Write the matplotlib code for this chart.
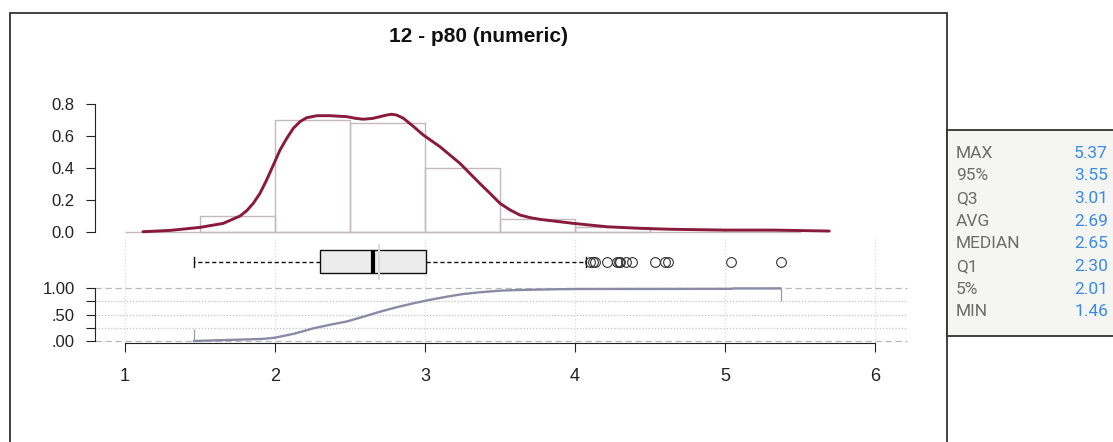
import matplotlib
matplotlib.use('Agg')
import matplotlib.pyplot as plt
from matplotlib.patches import Rectangle
import numpy as np

plt.rcParams['font.family'] = ['Liberation Sans', 'DejaVu Sans']

# histogram (density scale)
bin_edges = [1.5, 2.0, 2.5, 3.0, 3.5, 4.0, 4.5, 5.0, 5.5]
bin_density = [0.10, 0.70, 0.68, 0.40, 0.08, 0.03, 0.015, 0.01]

# kernel density estimate
dens_x = [1.12, 1.30, 1.50, 1.655, 1.767, 1.811, 1.855, 1.90, 1.944, 1.989, 2.033,
          2.078, 2.122, 2.167, 2.21, 2.28, 2.367, 2.478, 2.54, 2.589, 2.65, 2.70,
          2.744, 2.778, 2.811, 2.856, 2.92, 2.989, 3.10, 3.233, 3.367, 3.433, 3.50,
          3.567, 3.633, 3.70, 3.767, 3.989, 4.211, 4.433, 4.656, 4.989, 5.32, 5.695]
dens_y = [0.0, 0.008, 0.027, 0.052, 0.098, 0.131, 0.177, 0.24, 0.323, 0.417, 0.51,
          0.583, 0.646, 0.688, 0.712, 0.725, 0.725, 0.719, 0.708, 0.703, 0.708, 0.719,
          0.729, 0.734, 0.729, 0.709, 0.66, 0.604, 0.531, 0.427, 0.30, 0.24, 0.177,
          0.136, 0.104, 0.088, 0.077, 0.052, 0.031, 0.021, 0.015, 0.01, 0.01, 0.004]

# empirical cdf
cdf_x = [1.46, 1.92, 2.00, 2.13, 2.255, 2.37, 2.478, 2.60, 2.70, 2.81, 2.922,
         3.03, 3.144, 3.25, 3.367, 3.50, 3.59, 3.75, 3.88, 4.03, 5.04, 5.06, 5.37]
cdf_y = [0.0, 0.04, 0.063, 0.14, 0.24, 0.31, 0.37, 0.47, 0.556, 0.64, 0.715,
         0.78, 0.84, 0.89, 0.925, 0.955, 0.965, 0.975, 0.982, 0.987, 0.99, 0.998, 0.998]

# summary
stat_names = ['MAX', '95%', 'Q3', 'AVG', 'MEDIAN', 'Q1', '5%', 'MIN']
stat_values = [5.37, 3.55, 3.01, 2.69, 2.65, 2.30, 2.01, 1.46]
whisker_hi = 4.07
outliers = [4.10, 4.12, 4.13, 4.21, 4.28, 4.29, 4.30, 4.34, 4.38,
            4.53, 4.60, 4.62, 5.04, 5.37]

x_ticks = [1, 2, 3, 4, 5, 6]

W, H = 1113, 442
fig = plt.figure(figsize=(W / 100, H / 100), dpi=100)


def frac(l, t, r, b):
    return [l / W, 1 - b / H, (r - l) / W, (b - t) / H]


def fig_rect(l, t, r, b, **kw):
    fig.add_artist(Rectangle((l / W, 1 - b / H), (r - l) / W, (b - t) / H,
                             transform=fig.transFigure, **kw))


# outer frames
fig_rect(9.5, 12.5, 947, 460, fill=False, edgecolor='#333333', linewidth=1.3)
fig_rect(947, 130, 1118, 336, facecolor='#f5f5f3', edgecolor='#333333', linewidth=1.3)

fig.text(478.5 / W, 1 - 37 / H, '12 - p80 (numeric)', ha='center', va='center',
         fontsize=15, fontweight='bold', color='#111111')

xlim = (1 - 30 / 150, 1 + 785 / 150)

# --- density panel ---
ax_d = fig.add_axes(frac(95, 95, 910, 236))
ax_d.set_facecolor('none')
ax_d.set_xlim(xlim)
ax_d.set_ylim(-4.3 / 160, (231.7 - 95) / 160)
widths = np.diff(bin_edges)
ax_d.bar(bin_edges[:-1], bin_density, width=widths, align='edge',
         facecolor='none', edgecolor='#c4b8bb', linewidth=1.0)
ax_d.hlines(0, 1, 4.5, color='#c4b8bb', linewidth=1.0)
ax_d.plot(dens_x, dens_y, color='#8a1a3c', linewidth=2.1,
          solid_capstyle='round', solid_joinstyle='round')
for s in ['top', 'right', 'bottom']:
    ax_d.spines[s].set_visible(False)
ax_d.spines['left'].set_bounds(0, 0.8)
ax_d.spines['left'].set_color('#222222')
ax_d.set_yticks([0, 0.2, 0.4, 0.6, 0.8])
ax_d.set_yticklabels(['0.0', '0.2', '0.4', '0.6', '0.8'])
ax_d.tick_params(axis='y', length=6.5, pad=8, labelsize=12, colors='#222222')
ax_d.set_xticks([])

# --- boxplot + ecdf panel ---
ax_e = fig.add_axes(frac(95, 236, 910, 343.3))
ax_e.set_facecolor('none')
ax_e.set_xlim(xlim)
ax_e.set_ylim(-2.3 / 52.7, (341 - 236) / 52.7)

ax_e.vlines(x_ticks, -0.04, 1.97, color='#dcdcdc', linewidth=0.9, linestyle=':')
ax_e.hlines([0, 1], xlim[0], 6.21, color='#b8b8b8', linewidth=0.9, linestyle=(0, (5, 3)))
ax_e.hlines([0.25, 0.5, 0.75], xlim[0], 6.21, color='#c4c4c4', linewidth=0.9,
            linestyle=(0, (1, 1.5)))

box_pos = 1.505
stats = [{'med': stat_values[4], 'q1': stat_values[5], 'q3': stat_values[2],
          'whislo': stat_values[7], 'whishi': whisker_hi, 'fliers': outliers}]
ax_e.bxp(stats, positions=[box_pos], widths=0.444, capwidths=0.19,
         orientation='horizontal', patch_artist=True, manage_ticks=False,
         boxprops=dict(facecolor='#ececec', edgecolor='#111111', linewidth=1.0),
         whiskerprops=dict(color='#111111', linewidth=1.0, linestyle=(0, (3, 2))),
         capprops=dict(color='#111111', linewidth=1.0),
         medianprops=dict(color='#000000', linewidth=3.0),
         flierprops=dict(marker='o', markerfacecolor='none', markeredgecolor='#333333',
                         markersize=7, markeredgewidth=0.8))
ax_e.plot([stat_values[3]], [box_pos], marker='|', markersize=26, markeredgewidth=1.5,
          color='#dadada', zorder=2.5)

ax_e.plot(cdf_x, cdf_y, color='#8a8aa6', linewidth=1.7)
ax_e.vlines(stat_values[7], 0, 0.23, color='#9a9a9a', linewidth=0.9)
ax_e.vlines(stat_values[0], 0.76, 1.0, color='#9a9a9a', linewidth=0.9)

for s in ['top', 'right']:
    ax_e.spines[s].set_visible(False)
ax_e.spines['left'].set_bounds(0, 1)
ax_e.spines['bottom'].set_bounds(1, 6)
ax_e.spines['left'].set_color('#222222')
ax_e.spines['bottom'].set_color('#222222')
ax_e.set_yticks([0, 0.25, 0.5, 0.75, 1.0])
ax_e.set_yticklabels(['.00', '', '.50', '', '1.00'])
ax_e.tick_params(axis='y', length=6.5, pad=8, labelsize=12, colors='#222222')
ax_e.set_xticks(x_ticks)
ax_e.set_xticklabels([str(t) for t in x_ticks])
ax_e.tick_params(axis='x', length=6.5, pad=11, labelsize=13, colors='#222222')

# --- summary table ---
for i, (name, val) in enumerate(zip(stat_names, stat_values)):
    y = 1 - (153 + i * 22.7) / H
    fig.text(956 / W, y, name, ha='left', va='center', fontsize=12.5,
             color='#6c6c6c', family=['Roboto', 'DejaVu Sans'])
    fig.text(1108 / W, y, f'{val:.2f}', ha='right', va='center', fontsize=12.5,
             color='#3a8be6', family=['Roboto', 'DejaVu Sans'])

fig.savefig('out.png', dpi=100)
